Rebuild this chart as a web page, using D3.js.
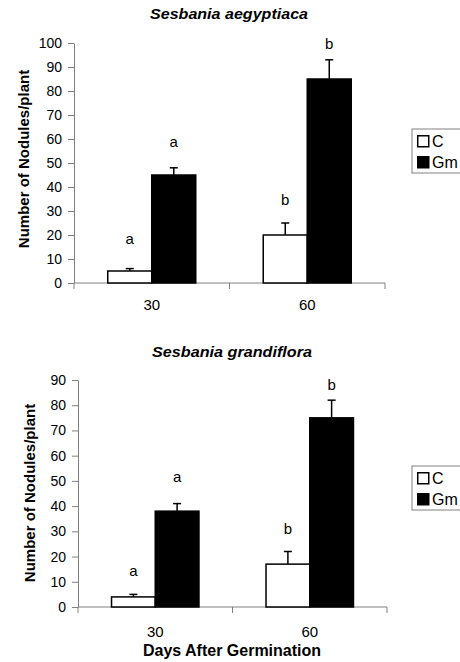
<!DOCTYPE html>
<html>
<head>
<meta charset="utf-8">
<script src="https://cdn.jsdelivr.net/npm/d3@7"></script>
<style>
  body { margin: 0; background: #fff; }
  svg { display: block; font-family: Arial, 'Liberation Sans', sans-serif; }
</style>
</head>
<body>
<svg id="chart" width="460" height="662"></svg>
<script>
// data
const days = ['30', '60'];
const treatments = ['C', 'Gm'];

const aegyptiacaMeans = [[5, 45], [20, 85]];
const aegyptiacaErrors = [[1, 3], [5, 8]];
const aegyptiacaLetters = [['a', 'a'], ['b', 'b']];
const aegyptiacaLetterPos = [[18.3, 59], [34.6, 99.6]];

const grandifloraMeans = [[4, 38], [17, 75]];
const grandifloraErrors = [[1, 3], [5, 7]];
const grandifloraLetters = [['a', 'a'], ['b', 'b']];
const grandifloraLetterPos = [[14.5, 51.8], [31, 88]];

const svg = d3.select('#chart');
const fills = {C: '#ffffff', Gm: '#000000'};
const axisGrey = '#808080';

function drawPanel(opts) {
  const g = svg.append('g');

  const y = d3.scaleLinear()
      .domain([0, opts.yMax])
      .range([opts.bottom, opts.top]);

  const x = d3.scaleBand()
      .domain(days)
      .range([opts.left, opts.right])
      .paddingInner(0.434)
      .paddingOuter(0.217);

  const xs = d3.scaleBand()
      .domain(treatments)
      .range([0, x.bandwidth()]);

  // title (stretched a little wider, as in the source)
  g.append('text')
      .attr('x', opts.titleX)
      .attr('y', opts.titleY)
      .attr('text-anchor', 'middle')
      .attr('textLength', opts.titleWidth)
      .attr('lengthAdjust', 'spacingAndGlyphs')
      .style('font-size', '15px')
      .style('font-weight', 'bold')
      .style('font-style', 'italic')
      .text(opts.title);

  // y axis
  const yAxis = g.append('g')
      .attr('transform', 'translate(' + opts.left + ',0)')
      .call(d3.axisLeft(y).ticks(opts.yMax / 10).tickSize(6).tickPadding(6).tickSizeOuter(0));
  yAxis.select('.domain').attr('stroke', axisGrey);
  yAxis.selectAll('.tick line').attr('stroke', axisGrey);
  yAxis.selectAll('.tick text')
      .style('font-size', '14px')
      .style('font-family', "Arial, 'Liberation Sans', sans-serif")
      .attr('fill', '#000');

  // x axis, ticks at category boundaries
  const xAxis = g.append('g')
      .attr('transform', 'translate(0,' + opts.bottom + ')');
  xAxis.append('line')
      .attr('x1', opts.left).attr('x2', opts.right)
      .attr('stroke', axisGrey);
  const bounds = [opts.left].concat(days.map((d) => x(d) + x.bandwidth() + x.step() * x.paddingInner() / 2));
  bounds[bounds.length - 1] = opts.right;
  xAxis.selectAll('.bound')
      .data(bounds)
      .enter().append('line')
      .attr('class', 'bound')
      .attr('x1', (d) => d).attr('x2', (d) => d)
      .attr('y1', 0).attr('y2', 6)
      .attr('stroke', axisGrey);
  xAxis.selectAll('.xlab')
      .data(days)
      .enter().append('text')
      .attr('class', 'xlab')
      .attr('x', (d) => x(d) + x.bandwidth() / 2)
      .attr('y', opts.xLabelDy)
      .attr('text-anchor', 'middle')
      .style('font-size', '15px')
      .text((d) => d);

  // y label
  g.append('text')
      .attr('transform', 'translate(' + opts.yLabelX + ',' + opts.yLabelY + ') rotate(-90)')
      .attr('text-anchor', 'middle')
      .style('font-size', '15px')
      .style('font-weight', 'bold')
      .text('Number of Nodules/plant');

  // bars
  const rows = [];
  days.forEach(function(d, i) {
    treatments.forEach(function(t, j) {
      rows.push({
        day: d, trt: t,
        mean: opts.means[i][j],
        err: opts.errors[i][j],
        letter: opts.letters[i][j],
        letterPos: opts.letterPos[i][j],
      });
    });
  });

  const bars = g.selectAll('.bar')
      .data(rows)
      .enter().append('g')
      .attr('class', 'bar')
      .attr('transform', (d) => 'translate(' + (x(d.day) + xs(d.trt)) + ',0)');

  // error bars (upper only)
  bars.append('line')
      .attr('x1', xs.bandwidth() / 2).attr('x2', xs.bandwidth() / 2)
      .attr('y1', (d) => y(d.mean))
      .attr('y2', (d) => y(d.mean + d.err))
      .attr('stroke', '#000')
      .attr('stroke-width', 1.5);
  bars.append('line')
      .attr('x1', xs.bandwidth() / 2 - 4).attr('x2', xs.bandwidth() / 2 + 4)
      .attr('y1', (d) => y(d.mean + d.err))
      .attr('y2', (d) => y(d.mean + d.err))
      .attr('stroke', '#000')
      .attr('stroke-width', 1.5);

  bars.append('rect')
      .attr('x', 0)
      .attr('y', (d) => y(d.mean))
      .attr('width', xs.bandwidth())
      .attr('height', (d) => y(0) - y(d.mean))
      .attr('fill', (d) => fills[d.trt])
      .attr('stroke', '#000')
      .attr('stroke-width', 1.5);

  bars.append('text')
      .attr('x', xs.bandwidth() / 2)
      .attr('y', (d) => y(d.letterPos))
      .attr('dy', '0.35em')
      .attr('text-anchor', 'middle')
      .style('font-size', '15px')
      .text((d) => d.letter);

  // legend
  const leg = g.append('g')
      .attr('transform', 'translate(412,' + opts.legendY + ')');
  leg.append('rect')
      .attr('x', 0).attr('y', 0)
      .attr('width', 60).attr('height', 44)
      .attr('fill', '#fff')
      .attr('stroke', axisGrey);
  const items = leg.selectAll('.item')
      .data(treatments)
      .enter().append('g')
      .attr('class', 'item')
      .attr('transform', (d, i) => 'translate(5,' + (6 + i * 21) + ')');
  items.append('rect')
      .attr('x', 0.75).attr('y', 0.75)
      .attr('width', 11).attr('height', 11)
      .attr('fill', (d) => fills[d])
      .attr('stroke', '#000')
      .attr('stroke-width', 1.5);
  items.append('text')
      .attr('x', 15)
      .attr('y', 12)
      .style('font-size', '16px')
      .text((d) => d);
}

drawPanel({
  title: 'Sesbania aegyptiaca', titleX: 229, titleY: 19, titleWidth: 158,
  left: 74, right: 385, top: 43, bottom: 283, yMax: 100,
  xLabelDy: 27, yLabelX: 29, yLabelY: 159, legendY: 129,
  means: aegyptiacaMeans, errors: aegyptiacaErrors,
  letters: aegyptiacaLetters, letterPos: aegyptiacaLetterPos,
});

drawPanel({
  title: 'Sesbania grandiflora', titleX: 232, titleY: 357, titleWidth: 160,
  left: 78, right: 387, top: 380, bottom: 607, yMax: 90,
  xLabelDy: 30, yLabelX: 35, yLabelY: 493, legendY: 466,
  means: grandifloraMeans, errors: grandifloraErrors,
  letters: grandifloraLetters, letterPos: grandifloraLetterPos,
});

svg.append('text')
    .attr('x', 232)
    .attr('y', 656)
    .attr('text-anchor', 'middle')
    .style('font-size', '16px')
    .style('font-weight', 'bold')
    .text('Days After Germination');
</script>
</body>
</html>
